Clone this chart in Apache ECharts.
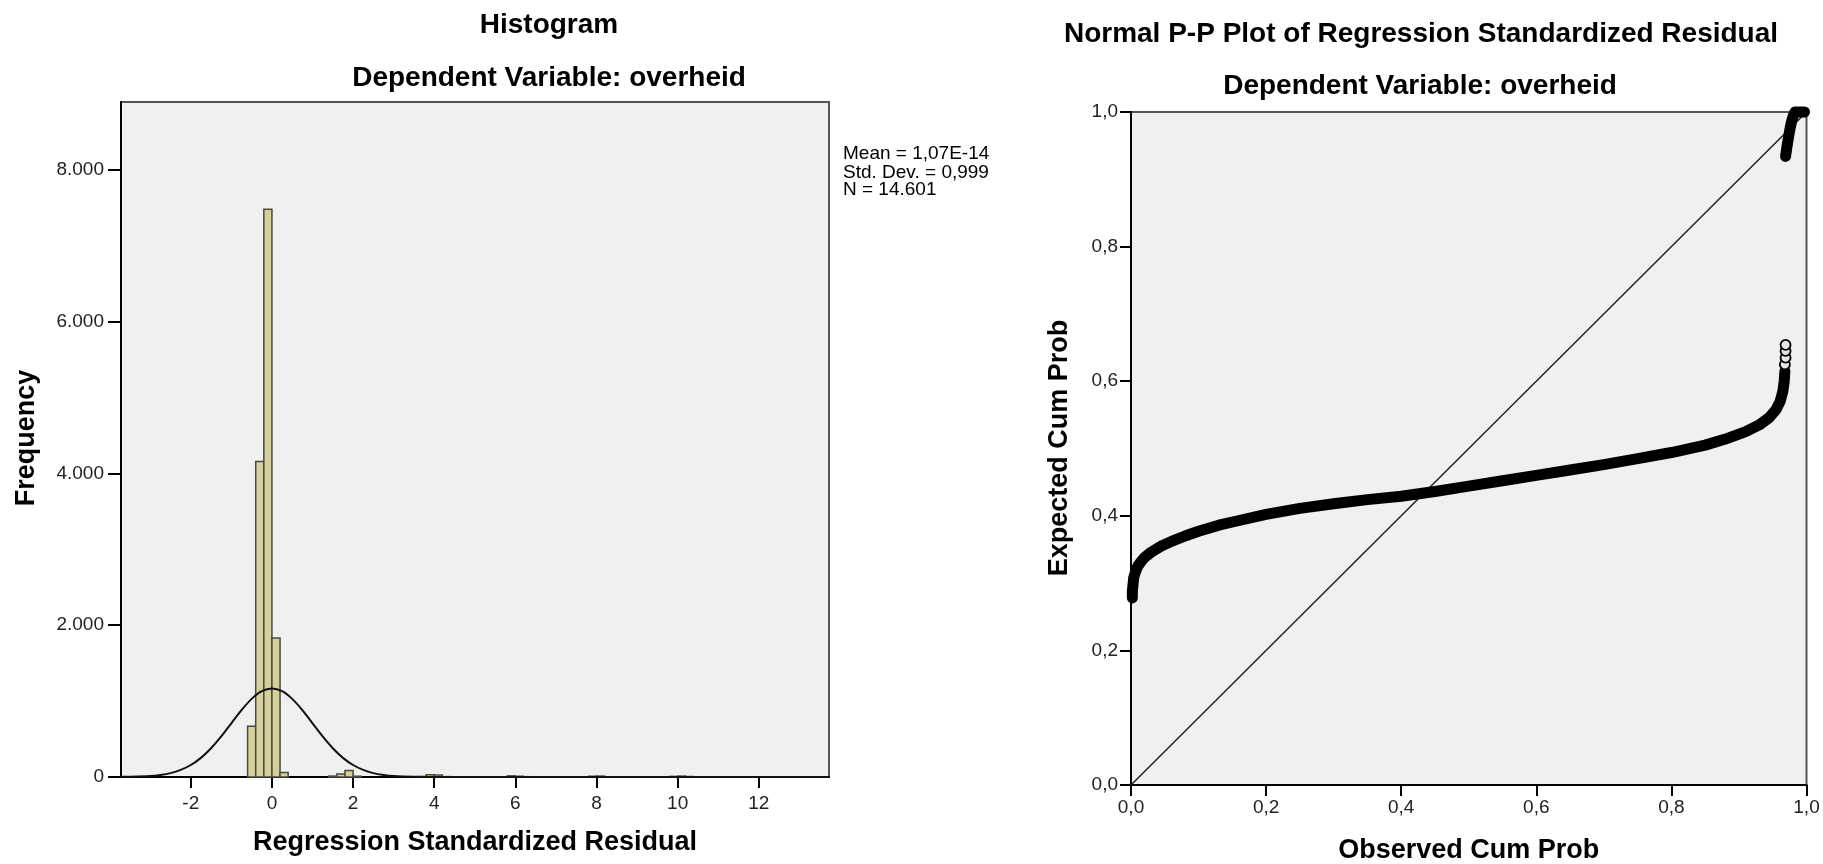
<!DOCTYPE html>
<html><head><meta charset="utf-8">
<script src="https://cdn.jsdelivr.net/npm/echarts@6.0.0/dist/echarts.min.js"></script>
<style>html,body{margin:0;padding:0;background:#fff}#c{width:1823px;height:864px}</style>
</head><body><div id="c"></div>
<script>
// ---- Histogram data ----
const binStart = [-0.6, -0.4, -0.2, 0.0, 0.2, 1.4, 1.6, 1.8, 2.0, 3.6, 3.8, 4.0, 4.2, 5.8, 6.0, 6.2, 7.8, 8.0, 8.2, 9.8, 10.0, 10.2, 10.4];
const binEnd   = [-0.4, -0.2, 0.0, 0.2, 0.4, 1.6, 1.8, 2.0, 2.2, 3.8, 4.0, 4.2, 4.4, 6.0, 6.2, 6.4, 8.0, 8.2, 8.4, 10.0, 10.2, 10.4, 10.6];
const binFreq  = [668, 4155, 7478, 1831, 60, 12, 40, 85, 10, 6, 30, 25, 5, 15, 10, 4, 10, 12, 3, 8, 12, 6, 2];

// Normal curve
const normX = [-3.72, -3.5, -3.0, -2.75, -2.5, -2.25, -2.0, -1.75, -1.5, -1.25, -1.0, -0.75, -0.5, -0.25, 0.0, 0.25, 0.5, 0.75, 1.0, 1.25, 1.5, 1.75, 2.0, 2.25, 2.5, 2.75, 3.0, 3.5, 4.0, 5.0, 13.73];
const normY = [2, 3, 13, 27, 51, 93, 158, 252, 379, 534, 707, 881, 1029, 1130, 1166, 1130, 1029, 881, 707, 534, 379, 252, 158, 93, 51, 27, 13, 3, 1, 0, 0];

const histXTicks = [-2, 0, 2, 4, 6, 8, 10, 12];
const histXLabels = ['-2', '0', '2', '4', '6', '8', '10', '12'];
const histYTicks = [0, 2000, 4000, 6000, 8000];
const histYLabels = ['0', '2.000', '4.000', '6.000', '8.000'];
const histXMin = -3.72, histXMax = 13.73, histYMax = 8890;

const statLines = ['Mean = 1,07E-14', 'Std. Dev. = 0,999', 'N = 14.601'];

// ---- P-P plot data ----
const ppLowObs = [0.002, 0.002, 0.003, 0.004, 0.007, 0.010, 0.015, 0.020, 0.030, 0.045, 0.060, 0.080, 0.100, 0.130, 0.160, 0.200, 0.250, 0.300, 0.350, 0.400, 0.450, 0.500, 0.550, 0.600, 0.650, 0.700, 0.750, 0.800, 0.850, 0.880, 0.910, 0.930, 0.945, 0.955, 0.961, 0.965, 0.967, 0.968];
const ppLowExp = [0.278, 0.288, 0.298, 0.308, 0.318, 0.325, 0.332, 0.338, 0.346, 0.355, 0.362, 0.370, 0.377, 0.386, 0.393, 0.402, 0.411, 0.418, 0.424, 0.429, 0.436, 0.444, 0.452, 0.460, 0.468, 0.476, 0.485, 0.494, 0.505, 0.514, 0.525, 0.535, 0.546, 0.558, 0.570, 0.585, 0.600, 0.615];
const ppTipObs = [0.968, 0.969, 0.969, 0.969];
const ppTipExp = [0.625, 0.635, 0.645, 0.654];
const ppHighObs = [0.969, 0.971, 0.973, 0.975, 0.977, 0.979, 0.981, 0.983, 0.990, 0.997];
const ppHighExp = [0.934, 0.948, 0.960, 0.972, 0.982, 0.990, 0.996, 1.000, 1.000, 1.000];
const diagObs = [0, 1];
const diagExp = [0, 1];
const ppTicks = [0, 0.2, 0.4, 0.6, 0.8, 1.0];
const ppLabels = ['0,0', '0,2', '0,4', '0,6', '0,8', '1,0'];

const FONT = '"Liberation Sans", Arial, sans-serif';
const zip = (a, b) => a.map((v, i) => [v, b[i]]);
const lab = (ticks, labels) => v => { const i = ticks.findIndex(t => Math.abs(t - v) < 1e-9); return i >= 0 ? labels[i] : ''; };

const chart = echarts.init(document.getElementById('c'), null, {renderer: 'canvas'});

function axisCommon(ticks, labels, margin, tickLen) {
  return {
    axisLine: {show: true, onZero: false, lineStyle: {color: '#000', width: 2}},
    axisTick: {show: true, inside: false, length: tickLen, customValues: ticks, lineStyle: {color: '#000', width: 2}},
    axisLabel: {show: true, customValues: ticks, formatter: lab(ticks, labels), margin: margin, color: '#222', fontSize: 19, fontFamily: FONT},
    splitLine: {show: false}
  };
}

const textEl = (txt, x, y, size, bold, align, rot) => ({
  type: 'text', x: x, y: y, rotation: rot || 0, silent: true,
  style: {text: txt, font: (bold ? 'bold ' : '') + size + 'px ' + FONT, fill: '#000',
    align: align, textAlign: align, verticalAlign: 'middle', textVerticalAlign: 'middle'}
});

const option = {
  animation: false,
  backgroundColor: '#fff',
  grid: [
    {left: 121, top: 102, width: 708, height: 675, show: true, backgroundColor: '#F0F0F0', borderColor: '#555', borderWidth: 2, containLabel: false, outerBoundsMode: 'none'},
    {left: 1131, top: 112, width: 675.5, height: 673, show: true, backgroundColor: '#F0F0F0', borderColor: '#555', borderWidth: 2, containLabel: false, outerBoundsMode: 'none'}
  ],
  xAxis: [
    Object.assign({type: 'value', gridIndex: 0, min: histXMin, max: histXMax}, axisCommon(histXTicks, histXLabels, 17, 11)),
    Object.assign({type: 'value', gridIndex: 1, min: 0, max: 1, interval: 0.2}, axisCommon(ppTicks, ppLabels, 13, 11))
  ],
  yAxis: [
    Object.assign({type: 'value', gridIndex: 0, min: 0, max: histYMax}, axisCommon(histYTicks, histYLabels, 17, 13)),
    Object.assign({type: 'value', gridIndex: 1, min: 0, max: 1, interval: 0.2}, axisCommon(ppTicks, ppLabels, 13, 11))
  ],
  series: [
    {
      type: 'custom', name: 'Frequency', xAxisIndex: 0, yAxisIndex: 0,
      data: binStart.map((s, i) => [s, binEnd[i], binFreq[i]]),
      encode: {x: [0, 1], y: 2},
      renderItem: function (params, api) {
        const p0 = api.coord([api.value(0), api.value(2)]);
        const p1 = api.coord([api.value(1), 0]);
        return {type: 'rect', shape: {x: p0[0], y: p0[1], width: p1[0] - p0[0], height: p1[1] - p0[1]},
          style: {fill: '#D5CF99', stroke: '#4A4A3C', lineWidth: 1.5}};
      },
      z: 2
    },
    {
      type: 'line', name: 'Normal', xAxisIndex: 0, yAxisIndex: 0,
      data: zip(normX, normY), showSymbol: false, smooth: 0.3,
      lineStyle: {color: '#111', width: 2}, z: 3
    },
    {
      type: 'line', name: 'Diagonal', xAxisIndex: 1, yAxisIndex: 1,
      data: zip(diagObs, diagExp), showSymbol: false,
      lineStyle: {color: '#222', width: 1.5}, z: 2
    },
    {
      type: 'line', name: 'PP low', xAxisIndex: 1, yAxisIndex: 1, clip: false,
      data: zip(ppLowObs, ppLowExp), showSymbol: false,
      lineStyle: {color: '#000', width: 11, cap: 'round', join: 'round'}, z: 3
    },
    {
      type: 'line', name: 'PP high', xAxisIndex: 1, yAxisIndex: 1, clip: false,
      data: zip(ppHighObs, ppHighExp), showSymbol: false,
      lineStyle: {color: '#000', width: 11, cap: 'round', join: 'round'}, z: 3
    },
    {
      type: 'scatter', name: 'PP tip', xAxisIndex: 1, yAxisIndex: 1, clip: false,
      data: zip(ppTipObs, ppTipExp), symbol: 'circle', symbolSize: 10,
      itemStyle: {color: '#E6E6E6', borderColor: '#000', borderWidth: 1.8, opacity: 1}, z: 4
    }
  ],
  graphic: [
    textEl('Histogram', 549, 25.5, 28, true, 'center'),
    textEl('Dependent Variable: overheid', 549, 78.3, 28, true, 'center'),
    textEl('Normal P-P Plot of Regression Standardized Residual', 1421, 34.3, 28, true, 'center'),
    textEl('Dependent Variable: overheid', 1420, 86.3, 28, true, 'center'),
    textEl('Frequency', 26.7, 438, 27, true, 'center', Math.PI / 2),
    textEl('Expected Cum Prob', 1060, 448, 27, true, 'center', Math.PI / 2),
    textEl('Regression Standardized Residual', 475, 843, 27, true, 'center'),
    textEl('Observed Cum Prob', 1468.75, 851, 27, true, 'center'),
    textEl(statLines[0], 843, 154, 19, false, 'left'),
    textEl(statLines[1], 843, 172.5, 19, false, 'left'),
    textEl(statLines[2], 843, 189.7, 19, false, 'left')
  ]
};
chart.setOption(option);
</script></body></html>
